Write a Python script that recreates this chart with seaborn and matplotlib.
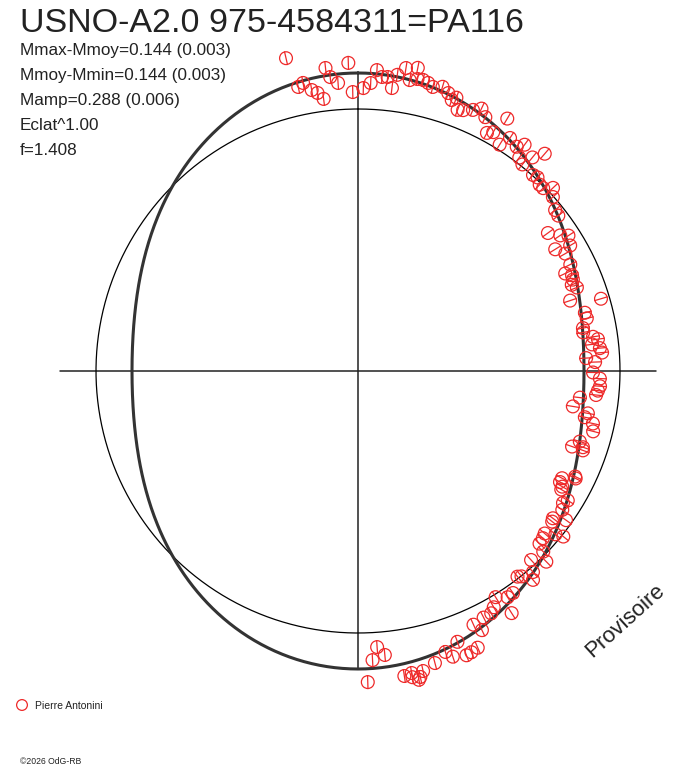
import numpy as np
import pandas as pd
import seaborn as sns
import matplotlib.pyplot as plt
from matplotlib.collections import LineCollection

phase = [0.964, 0.983, 0.995, 0.985, 0.989, 0.967, 0.970, 0.974, 0.977, 0.980,
         0.997, 0.003, 0.007, 0.010, 0.013, 0.016, 0.019, 0.021, 0.025, 0.031,
         0.028, 0.032, 0.035, 0.038, 0.041, 0.046, 0.050, 0.053, 0.055, 0.058,
         0.061, 0.066, 0.070, 0.074, 0.085, 0.079, 0.082, 0.089, 0.092, 0.098,
         0.101, 0.103, 0.107, 0.109, 0.113, 0.116, 0.119, 0.123, 0.126, 0.130,
         0.134, 0.141, 0.145, 0.150, 0.156, 0.159, 0.162, 0.168, 0.165, 0.176,
         0.180, 0.183, 0.186, 0.189, 0.192, 0.199, 0.204, 0.210, 0.214, 0.220,
         0.223, 0.227, 0.229, 0.232, 0.235, 0.238, 0.241, 0.244, 0.251, 0.255,
         0.260, 0.263, 0.266, 0.269, 0.276, 0.279, 0.282, 0.285, 0.290, 0.299,
         0.304, 0.302, 0.304, 0.327, 0.322, 0.330, 0.332, 0.334, 0.323, 0.341,
         0.338, 0.345, 0.349, 0.353, 0.355, 0.364, 0.367, 0.371, 0.358, 0.360,
         0.373, 0.376, 0.382, 0.386, 0.393, 0.395, 0.389, 0.403, 0.407, 0.413,
         0.417, 0.420, 0.410, 0.425, 0.432, 0.429, 0.444, 0.435, 0.439, 0.442,
         0.452, 0.449, 0.459, 0.466, 0.468, 0.472, 0.476, 0.469, 0.489, 0.485,
         0.492, 0.495, 0.472]
dmag = [0.236, 0.171, 0.185, 0.133, 0.107, 0.113, 0.125, 0.091, 0.076, 0.049,
        0.068, 0.084, 0.105, 0.158, 0.132, 0.134, 0.092, 0.147, 0.179, 0.188,
        0.134, 0.144, 0.145, 0.138, 0.127, 0.138, 0.121, 0.099, 0.114, 0.070,
        0.077, 0.093, 0.112, 0.088, 0.125, 0.035, 0.050, 0.020, 0.065, 0.051,
        0.076, 0.022, 0.008, 0.055, 0.098, 0.003, 0.008, -0.007, -0.007, 0.022,
        -0.003, -0.030, -0.034, -0.109, -0.074, -0.047, -0.121, -0.095, -0.062, -0.098,
        -0.132, -0.110, -0.114, -0.126, -0.111, -0.154, -0.034, -0.111, -0.109, -0.132,
        -0.134, -0.098, -0.080, -0.106, -0.076, -0.069, -0.134, -0.099, -0.108, -0.080,
        -0.078, -0.085, -0.091, -0.154, -0.177, -0.113, -0.122, -0.085, -0.077, -0.117,
        -0.140, -0.098, -0.094, -0.126, -0.082, -0.126, -0.109, -0.107, -0.077, -0.073,
        -0.062, -0.060, -0.024, -0.071, -0.065, -0.058, -0.051, -0.046, 0.007, -0.023,
        -0.013, 0.024, -0.023, 0.018, 0.002, -0.007, 0.042, 0.035, 0.037, 0.011,
        0.042, 0.058, 0.099, 0.059, 0.067, 0.101, 0.106, 0.158, 0.165, 0.169,
        0.129, 0.156, 0.160, 0.180, 0.201, 0.196, 0.186, 0.211, 0.059, 0.093,
        0.110, 0.197, 0.179]
err = 0.028

# fit parameters (from the annotations)
half_amp = 0.144
title = "USNO-A2.0 975-4584311=PA116"
info = ["Mmax-Mmoy=0.144 (0.003)", "Mmoy-Mmin=0.144 (0.003)",
        "Mamp=0.288 (0.006)", "Eclat^1.00", "f=1.408"]

R0 = 262.0     # radius of mean magnitude circle
SCALE = 250.0  # radius units per magnitude
red = "#ee2a2a"
ink = "#222222"

def to_xy(ph, dm):
    ph = np.asarray(ph)
    r = R0 + SCALE * np.asarray(dm)
    a = 2 * np.pi * ph
    return r * np.sin(a), r * np.cos(a)

df = pd.DataFrame({"phase": phase, "dmag": dmag})
df["x"], df["y"] = to_xy(df["phase"], df["dmag"])

fit_ph = np.linspace(0, 1, 721)
fit_dm = half_amp * np.cos(4 * np.pi * fit_ph)
fit = pd.DataFrame({"phase": fit_ph, "dmag": fit_dm})
fit["x"], fit["y"] = to_xy(fit["phase"], fit["dmag"])

sns.set_style("white")
plt.rcParams["font.family"] = ["Liberation Sans", "DejaVu Sans"]

fig = plt.figure(figsize=(6.88, 7.68), dpi=100)
ax = fig.add_axes([0, 0, 1, 1])
ax.set_xlim(-358, 330)
ax.set_ylim(-397, 371)
ax.axis("off")

rmax = R0 + SCALE * half_amp
ax.plot([-rmax, rmax], [0, 0], color=ink, lw=1.1, zorder=1)
ax.plot([0, 0], [-rmax, rmax], color=ink, lw=1.1, zorder=1)

t = np.linspace(0, 2 * np.pi, 400)
ax.plot(R0 * np.sin(t), R0 * np.cos(t), color="black", lw=0.9, zorder=1)

sns.lineplot(data=fit, x="x", y="y", sort=False, estimator=None,
             color="#333333", lw=2.2, ax=ax, zorder=2)

# radial error bars
x0, y0 = to_xy(df["phase"], df["dmag"] - err)
x1, y1 = to_xy(df["phase"], df["dmag"] + err)
segs = np.stack([np.column_stack([x0, y0]), np.column_stack([x1, y1])], axis=1)
ax.add_collection(LineCollection(segs, colors=red, linewidths=0.9, zorder=3))

sns.scatterplot(data=df, x="x", y="y", marker="o", s=85,
                facecolors="none", edgecolors=red, linewidths=0.9,
                ax=ax, zorder=4, legend=False)

W, H = 688, 768
fig.text(20 / W, 1 - 23 / H, title, fontsize=24.5, color=ink, va="center", ha="left")
for i, line in enumerate(info):
    fig.text(20 / W, 1 - (51 + 24.8 * i) / H, line, fontsize=12.3,
             color=ink, va="center", ha="left")

fig.text(625 / W, 1 - 621 / H, "Provisoire", fontsize=16, color=ink,
         rotation=42, ha="center", va="center")

ax.scatter([22 - 358], [371 - 705], s=60, facecolors="none",
           edgecolors=red, linewidths=0.9)
fig.text(35 / W, 1 - 706 / H, "Pierre Antonini", fontsize=7.5, color=ink,
         va="center", ha="left")
fig.text(20 / W, 1 - 762 / H, "\u00a92026 OdG-RB", fontsize=6.2, color=ink,
         va="center", ha="left")

fig.savefig("out.png", dpi=100, facecolor="white")
